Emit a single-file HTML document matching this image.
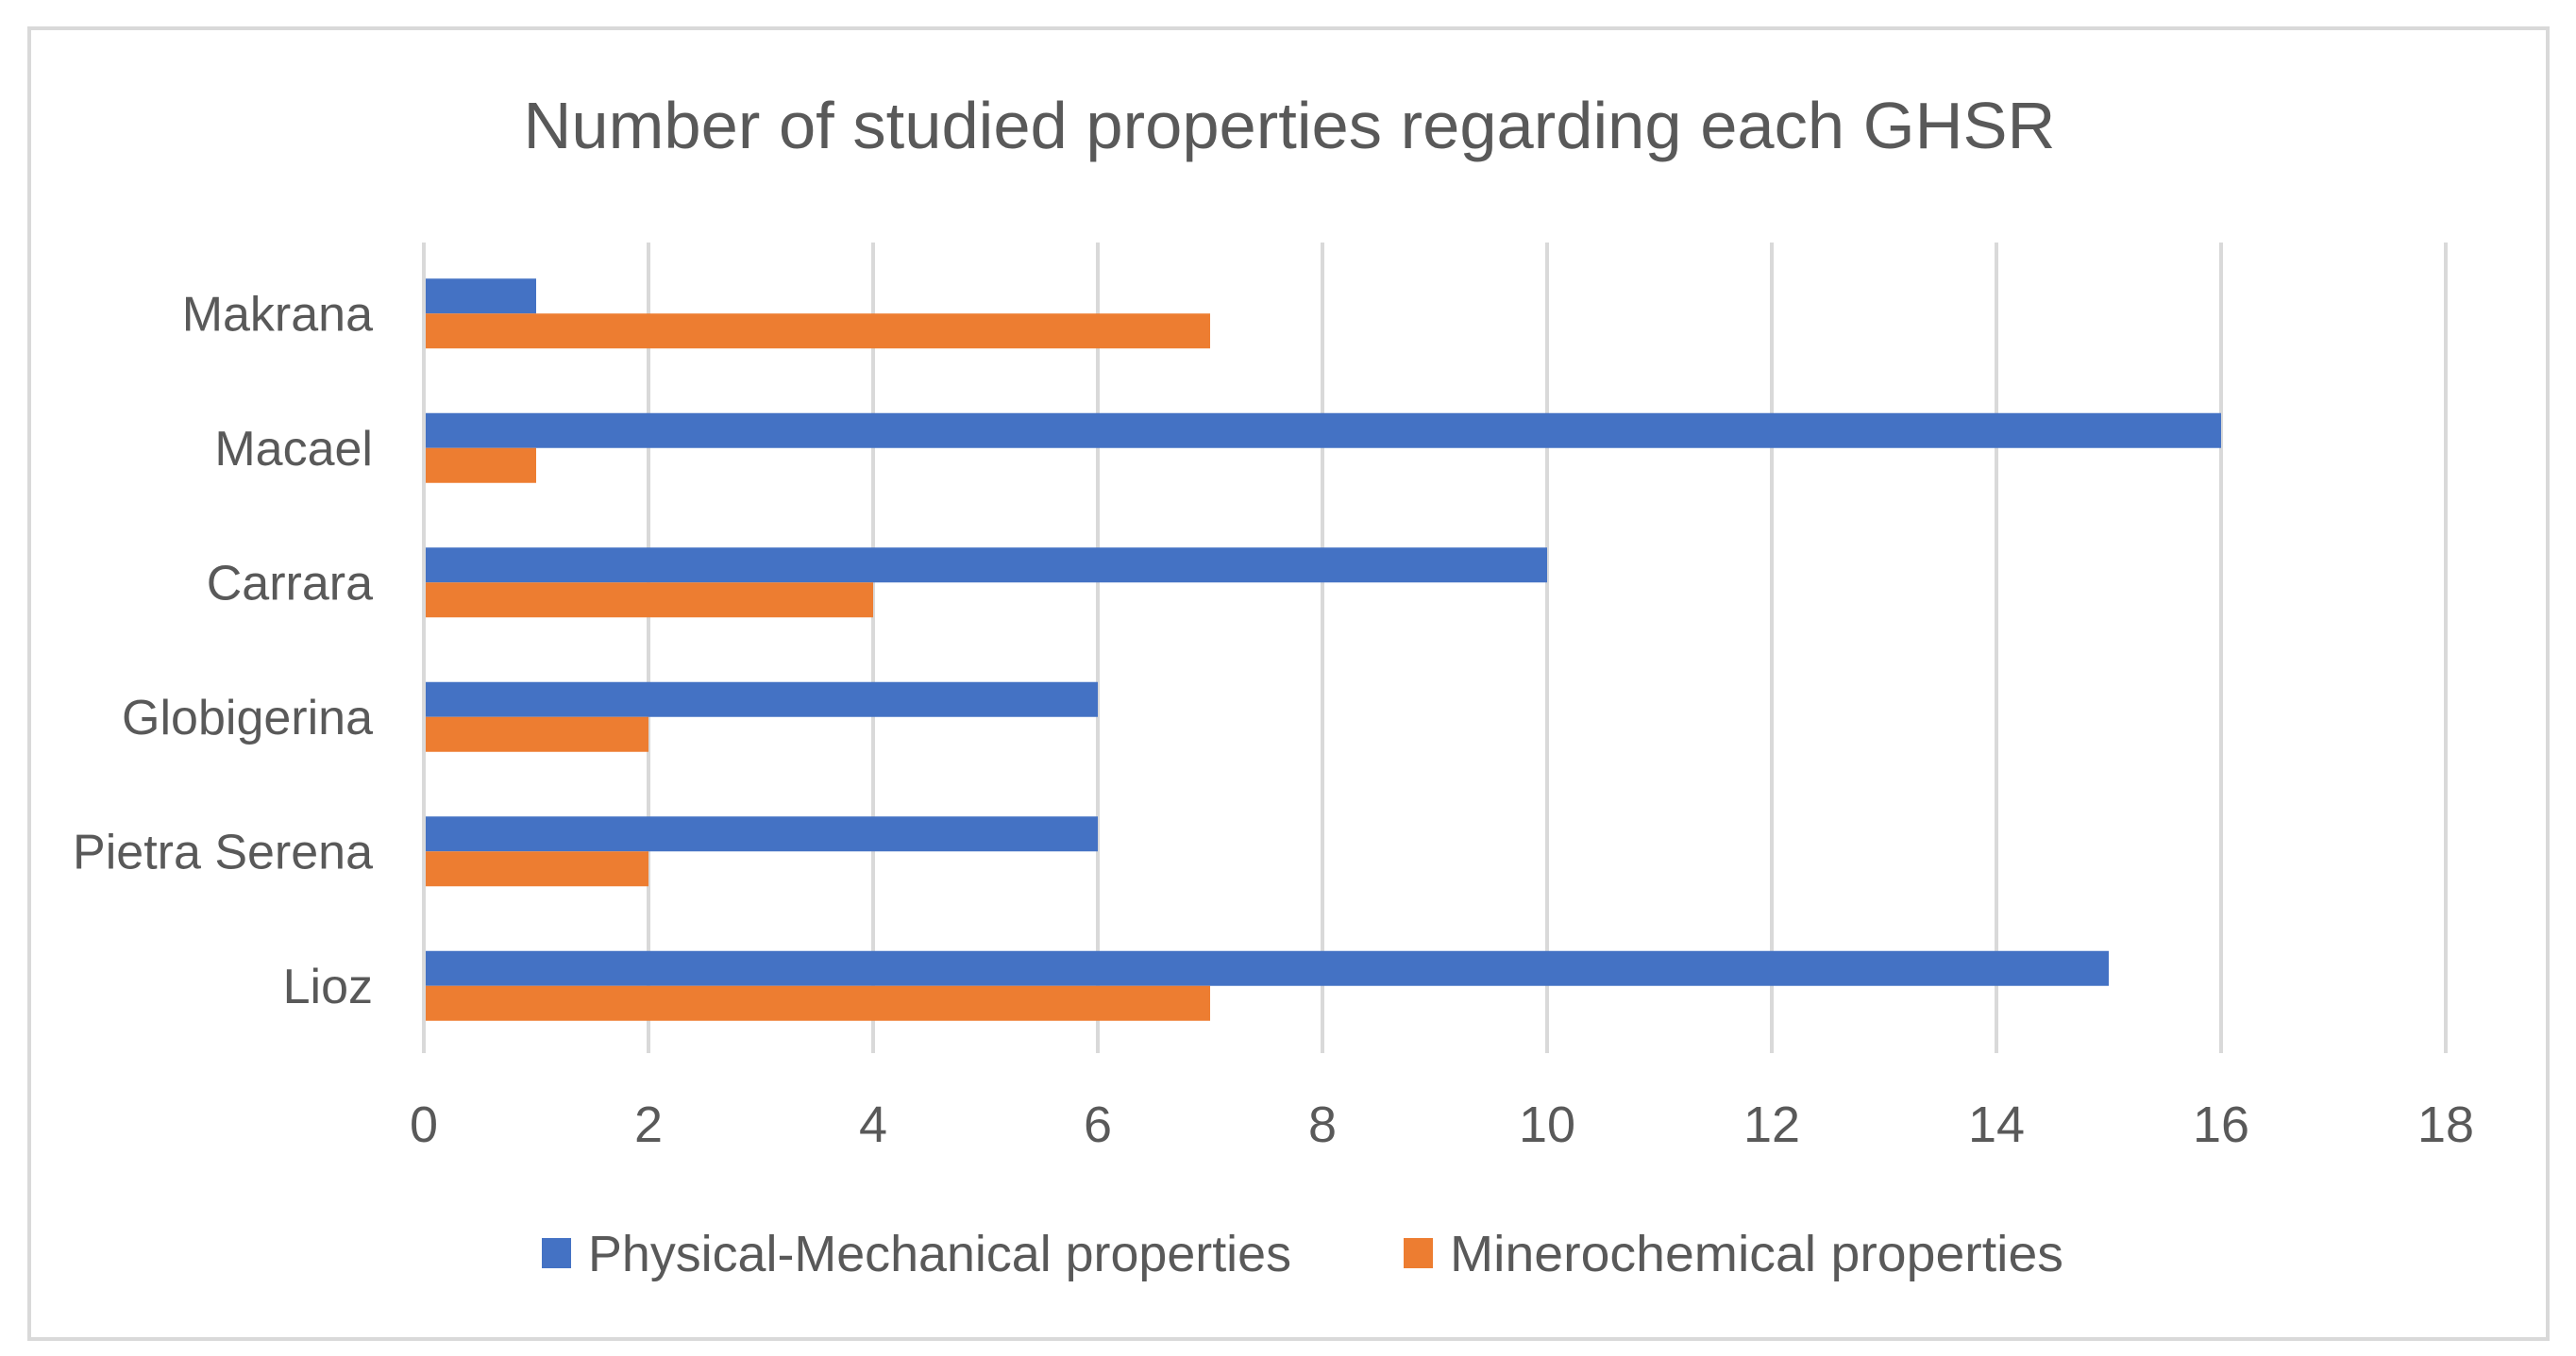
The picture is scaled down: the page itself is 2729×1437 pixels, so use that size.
<!DOCTYPE html>
<html><head><meta charset="utf-8"><style>
html,body{margin:0;padding:0;background:#fff;}
svg{display:block;font-family:"Liberation Sans",sans-serif;}
</style></head><body>
<svg id="chart" width="2729" height="1437" viewBox="0 0 2729 1437" xmlns="http://www.w3.org/2000/svg">
<rect x="31" y="30" width="2668" height="1389" fill="#fff" stroke="#d9d9d9" stroke-width="4"/>
<text x="1366" y="157" text-anchor="middle" font-size="70" fill="#595959" textLength="1623" lengthAdjust="spacingAndGlyphs">Number of studied properties regarding each GHSR</text>
<g id="grid"></g><g id="bars"></g><g id="labels"></g>
<rect x="574" y="1312" width="31" height="32" fill="#4472c4"/>
<text x="623" y="1347" font-size="54" fill="#595959" textLength="745" lengthAdjust="spacingAndGlyphs">Physical-Mechanical properties</text>
<rect x="1487" y="1312" width="31" height="32" fill="#ed7d31"/>
<text x="1536" y="1347" font-size="54" fill="#595959" textLength="650" lengthAdjust="spacingAndGlyphs">Minerochemical properties</text>
</svg>
<script>
const categories = ["Makrana","Macael","Carrara","Globigerina","Pietra Serena","Lioz"];
const physicalValues = [1,16,10,6,6,15];
const mineroValues = [7,1,4,2,2,7];
const xTicks = [0,2,4,6,8,10,12,14,16,18];

const NS="http://www.w3.org/2000/svg";
const x0=449, unit=119, plotTop=261, plotBottom=1116;
const band=(plotBottom-plotTop)/categories.length, barH=37;
const xs=v=>x0+v*unit;
const grid=document.getElementById('grid'), bars=document.getElementById('bars'), labels=document.getElementById('labels');
function mk(tag,attrs,parent){const e=document.createElementNS(NS,tag);for(const k in attrs)e.setAttribute(k,attrs[k]);parent.appendChild(e);return e;}
xTicks.forEach(t=>{
  const l=mk('line',{x1:xs(t),x2:xs(t),y1:plotTop-4,y2:plotBottom,stroke:'#d9d9d9','stroke-width':4},grid);
  
  
  const tx=mk('text',{x:xs(t),y:1210,'text-anchor':'middle','font-size':54,fill:'#595959'},labels);
  tx.textContent=t;
  
  
});
categories.forEach((c,i)=>{
  const cy=plotTop+band*(i+0.5);
  const b=mk('rect',{x:xs(0)+2,y:cy-barH,width:xs(physicalValues[i])-xs(0)-2,height:barH,fill:'#4472c4'},bars);
  
  
  const o=mk('rect',{x:xs(0)+2,y:cy,width:xs(mineroValues[i])-xs(0)-2,height:barH,fill:'#ed7d31'},bars);
  
  
  const t=mk('text',{x:395,y:cy+18,'text-anchor':'end','font-size':52,fill:'#595959'},labels);
  t.textContent=c;
  
  
});
</script>
</body></html>
